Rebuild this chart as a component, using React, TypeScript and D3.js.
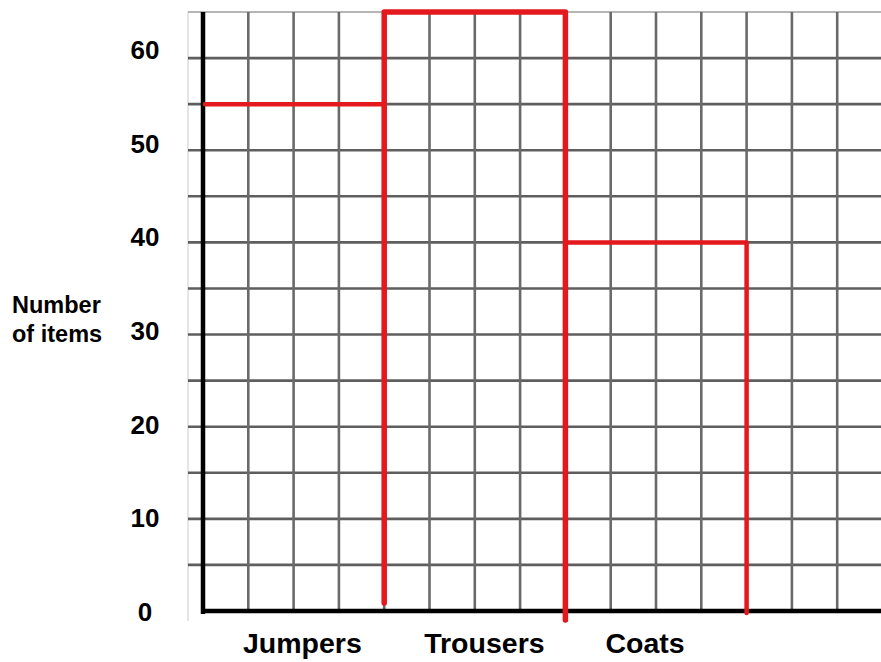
import React from "react";
import * as d3 from "d3";

const categories = ["Jumpers", "Trousers", "Coats"];
const values = [55, 65, 40];
const yTicks = [0, 10, 20, 30, 40, 50, 60];
const gridValues = [5, 10, 15, 20, 25, 30, 35, 40, 45, 50, 55, 60];
const gridColumns = [1, 2, 3, 4, 5, 6, 7, 8, 9, 10, 11, 12, 13, 14];
const axisTitle = ["Number", "of items"];

const W = 881;
const H = 662;
const FONT = "'Liberation Sans', Arial, Helvetica, sans-serif";

export default function App() {
  const colW = 45.3;
  const x = d3.scaleLinear().domain([0, 15]).range([203, 203 + 15 * colW]);
  const y = d3.scaleLinear().domain([0, 65]).range([611, 12]);
  const yLabel = d3.scaleLinear().domain([0, 60]).range([621, 59]);
  const band = d3
    .scaleBand<string>()
    .domain(categories)
    .range([x(0), x(12)])
    .padding(0);

  const line = d3.line<[number, number]>();
  const red = "#e3191d";
  // hand-drawn overshoot/undershoot of each bar's right edge relative to the axis
  const rightEnd = [-8, 9, 2];

  return (
    <svg
      width={W}
      height={H}
      style={{ position: "absolute", left: 0, top: 0, background: "#fff" }}
    >
      <line x1={188} x2={188} y1={y(65)} y2={y(0) + 10} stroke="#ddd" strokeWidth={1.5} />
      <line x1={188} x2={W} y1={y(65)} y2={y(65)} stroke="#b5b5b5" strokeWidth={2} />
      {gridValues.map((v) => (
        <line key={"h" + v} x1={188} x2={W} y1={y(v)} y2={y(v)} stroke="#5e5e5e" strokeWidth={2.6} />
      ))}
      {gridColumns.map((c) => (
        <line key={"v" + c} x1={x(c)} x2={x(c)} y1={y(65)} y2={y(0)} stroke="#6a6a6a" strokeWidth={2.6} />
      ))}
      <line x1={x(0)} x2={x(0)} y1={y(65)} y2={y(0) + 3} stroke="#000" strokeWidth={4.5} />
      <line x1={x(0) - 2} x2={W} y1={y(0)} y2={y(0)} stroke="#000" strokeWidth={4.5} />

      {categories.map((c, i) => {
        const x0 = band(c)!;
        const x1 = x0 + band.bandwidth();
        const top = y(values[i]);
        const bottom = y(0) + rightEnd[i];
        const pts: [number, number][] = [];
        if (i > 0) pts.push([x0, y(0) + rightEnd[i - 1]], [x0, top]);
        else pts.push([x0 + 2, top]);
        pts.push([x1, top], [x1, bottom]);
        return (
          <path
            key={c}
            d={line(pts) || ""}
            fill="none"
            stroke={red}
            strokeWidth={i === 1 ? 5.5 : 4.5}
            strokeLinejoin="round"
            strokeLinecap="round"
          />
        );
      })}

      {yTicks.map((t) => (
        <text
          key={"t" + t}
          x={145}
          y={yLabel(t)}
          textAnchor="middle"
          fontFamily={FONT}
          fontWeight="bold"
          fontSize={26}
          fill="#000"
        >
          {t}
        </text>
      ))}

      {axisTitle.map((s, i) => (
        <text
          key={s}
          x={12}
          y={313 + i * 29}
          fontFamily={FONT}
          fontWeight="bold"
          fontSize={23.5}
          fill="#000"
        >
          {s}
        </text>
      ))}

      {categories.map((c) => (
        <text
          key={"c" + c}
          x={band(c)! + 40}
          y={653}
          fontFamily={FONT}
          fontWeight="bold"
          fontSize={28.5}
          fill="#000"
        >
          {c}
        </text>
      ))}
    </svg>
  );
}
